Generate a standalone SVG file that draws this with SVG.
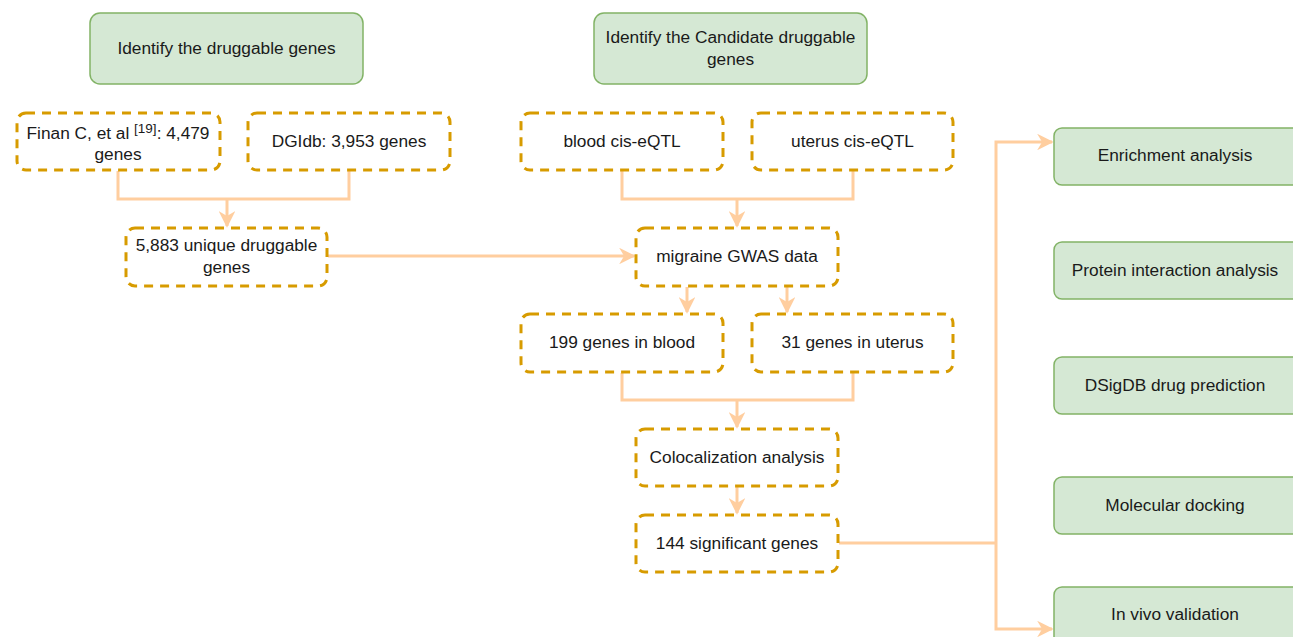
<svg xmlns="http://www.w3.org/2000/svg" width="1293" height="637" viewBox="0 0 1293 637">
<style>
.g{fill:#d5e8d4;stroke:#82b366;stroke-width:1.5}
.d{fill:#fff;stroke:#d79b00;stroke-width:3;stroke-dasharray:9 7}
.c{fill:none;stroke:#ffce9f;stroke-width:3}
text{font-family:"Liberation Sans",Arial,sans-serif;font-size:17.3px;fill:#1a1a1a;text-anchor:middle}
</style>
<defs>
<marker id="a" viewBox="0 0 10 10" refX="9" refY="5" markerWidth="5.5" markerHeight="5.5" orient="auto" markerUnits="strokeWidth">
<path d="M0,0 L10,5 L0,10 L3,5 Z" fill="#ffce9f"/>
</marker>
</defs>
<rect width="1293" height="637" fill="#fff"/>
<g id="connectors">
<path class="c" d="M118,171 V199 H349 V171"/>
<path class="c" d="M227,199 V226" marker-end="url(#a)"/>
<path class="c" d="M328,256 H634" marker-end="url(#a)"/>
<path class="c" d="M622,171 V199 H853 V171"/>
<path class="c" d="M737,199 V226" marker-end="url(#a)"/>
<path class="c" d="M687,287 V312" marker-end="url(#a)"/>
<path class="c" d="M787,287 V312" marker-end="url(#a)"/>
<path class="c" d="M622,373 V400 H853 V373"/>
<path class="c" d="M737,400 V427" marker-end="url(#a)"/>
<path class="c" d="M737,487 V513" marker-end="url(#a)"/>
<path class="c" d="M839,543 H996"/>
<path class="c" d="M996,543 V142 H1052" marker-end="url(#a)"/>
<path class="c" d="M996,543 V629 H1052" marker-end="url(#a)"/>
</g>
<g id="n1"><rect class="g" x="90" y="13" width="273" height="71" rx="10"/><text x="226.5" y="54">Identify the druggable genes</text></g>
<g id="n2"><rect class="g" x="594" y="13" width="273" height="71" rx="10"/><text x="730.5" y="43">Identify the Candidate druggable</text><text x="730.5" y="65">genes</text></g>
<g id="n3"><rect class="d" x="17" y="113" width="203" height="57" rx="9"/><text x="118" y="139">Finan C, et al <tspan font-size="13.5" dy="-6">[19]</tspan><tspan dy="6">: 4,479</tspan></text><text x="118" y="160">genes</text></g>
<g id="n4"><rect class="d" x="248" y="113" width="202" height="57" rx="9"/><text x="349" y="147">DGIdb: 3,953 genes</text></g>
<g id="n5"><rect class="d" x="126" y="228" width="201" height="58" rx="9"/><text x="226.5" y="251">5,883 unique druggable</text><text x="226.5" y="273">genes</text></g>
<g id="n6"><rect class="d" x="521" y="113" width="202" height="57" rx="9"/><text x="622" y="147">blood cis-eQTL</text></g>
<g id="n7"><rect class="d" x="752" y="113" width="201" height="57" rx="9"/><text x="852.5" y="147">uterus cis-eQTL</text></g>
<g id="n8"><rect class="d" x="636" y="228" width="202" height="58" rx="9"/><text x="737" y="262">migraine GWAS data</text></g>
<g id="n9"><rect class="d" x="521" y="314" width="202" height="58" rx="9"/><text x="622" y="348">199 genes in blood</text></g>
<g id="n10"><rect class="d" x="752" y="314" width="201" height="58" rx="9"/><text x="852.5" y="348">31 genes in uterus</text></g>
<g id="n11"><rect class="d" x="636" y="429" width="202" height="57" rx="9"/><text x="737" y="463">Colocalization analysis</text></g>
<g id="n12"><rect class="d" x="636" y="515" width="202" height="57" rx="9"/><text x="737" y="549">144 significant genes</text></g>
<g id="n13"><rect class="g" x="1054" y="128" width="250" height="57" rx="8"/><text x="1175" y="161">Enrichment analysis</text></g>
<g id="n14"><rect class="g" x="1054" y="242" width="250" height="57" rx="8"/><text x="1175" y="276">Protein interaction analysis</text></g>
<g id="n15"><rect class="g" x="1054" y="357" width="250" height="57" rx="8"/><text x="1175" y="391">DSigDB drug prediction</text></g>
<g id="n16"><rect class="g" x="1054" y="477" width="250" height="57" rx="8"/><text x="1175" y="511">Molecular docking</text></g>
<g id="n17"><rect class="g" x="1054" y="587" width="250" height="57" rx="8"/><text x="1175" y="620">In vivo validation</text></g>
</svg>
